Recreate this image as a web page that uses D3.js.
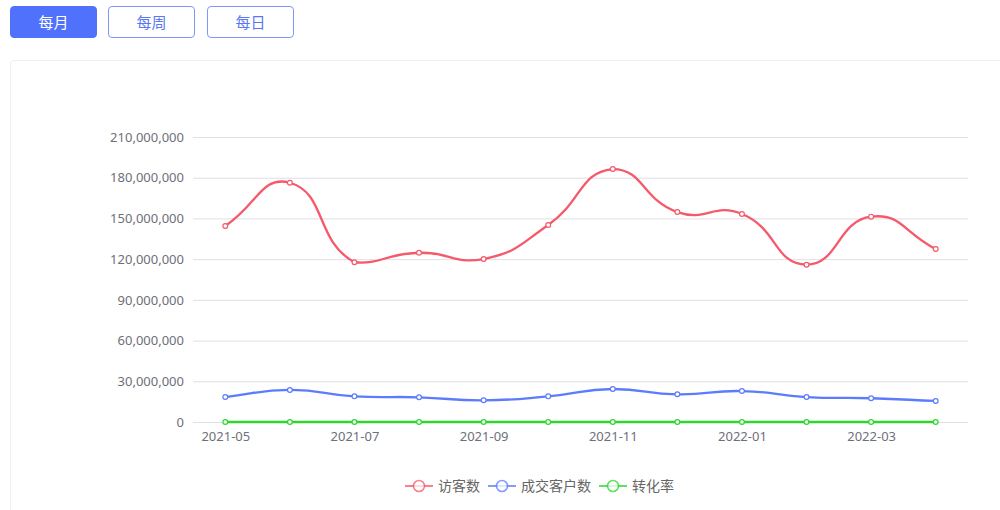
<!DOCTYPE html>
<html>
<head>
<meta charset="utf-8">
<script src="https://cdn.jsdelivr.net/npm/d3@7/dist/d3.min.js"></script>
<style>
  body { margin: 0; width: 1000px; height: 510px; overflow: hidden; background: #fff;
         font-family: "Noto Sans CJK SC", "Noto Sans", sans-serif; }
  .btns { position: absolute; left: 10px; top: 6px; }
  .btn { position: absolute; top: 0; width: 87px; height: 32px; box-sizing: border-box;
         border: 1px solid #7f97f7; border-radius: 4px; background: #fff; color: #5a78f3;
         font-size: 15px; line-height: 30px; text-align: center; }
  .btn.on { background: #4f71fb; border-color: #4f71fb; color: #fff; }
  .card { position: absolute; left: 10px; top: 60px; width: 1000px; height: 470px;
          border: 1px solid #f0f0f3; border-radius: 4px; }
  svg { position: absolute; left: 0; top: 0; }
</style>
</head>
<body>
<div class="btns"></div>
<div class="card"></div>
<svg></svg>
<script>
const BUTTONS = ["每月", "每周", "每日"];
const MONTHS = ["2021-05", "2021-06", "2021-07", "2021-08", "2021-09", "2021-10",
                "2021-11", "2021-12", "2022-01", "2022-02", "2022-03", "2022-04"];
const VISITORS = [144400000, 176300000, 117700000, 124700000, 120100000, 145200000,
                  186400000, 154700000, 153300000, 115900000, 151300000, 127500000];
const BUYERS = [18400000, 23600000, 18900000, 18200000, 16000000, 18900000,
                24300000, 20400000, 22800000, 18400000, 17500000, 15500000];
const RATE = [0.13, 0.13, 0.16, 0.15, 0.13, 0.13, 0.13, 0.13, 0.15, 0.16, 0.12, 0.12];
const Y_TICKS = [0, 30000000, 60000000, 90000000, 120000000, 150000000, 180000000, 210000000];
const SERIES = [
  { name: "访客数", values: VISITORS, color: "#f5596a" },
  { name: "成交客户数", values: BUYERS, color: "#5b7cfd" },
  { name: "转化率", values: RATE, color: "#2ed62e" }
];

// buttons
d3.select(".btns").selectAll("div")
  .data(BUTTONS)
  .enter().append("div")
  .attr("class", (d, i) => i === 0 ? "btn on" : "btn")
  .style("left", (d, i) => [0, 98, 197][i] + "px")
  .text(d => d);

const WIDTH = 1000, HEIGHT = 510;
const GRID = { left: 193, right: 968, top: 137, bottom: 422 };

const svg = d3.select("svg").attr("width", WIDTH).attr("height", HEIGHT);

const xScale = d3.scalePoint().domain(MONTHS).range([GRID.left, GRID.right]).padding(0.5);
const yScale = d3.scaleLinear().domain([0, 210000000]).range([GRID.bottom, GRID.top]);

// smooth bezier like the old echarts polyline (smooth 0.5, clamped to bbox)
function drawSmooth(ctx, pts, smooth) {
  const n = pts.length;
  if (!n) return;
  const minX = d3.min(pts, p => p[0]), maxX = d3.max(pts, p => p[0]);
  const minY = d3.min(pts, p => p[1]), maxY = d3.max(pts, p => p[1]);
  const clamp = c => [Math.max(minX, Math.min(maxX, c[0])), Math.max(minY, Math.min(maxY, c[1]))];
  const cps = [];
  for (let i = 0; i < n; i++) {
    const p = pts[i];
    const prev = pts[Math.max(0, i - 1)];
    const next = pts[Math.min(n - 1, i + 1)];
    const vx = (next[0] - prev[0]) * smooth, vy = (next[1] - prev[1]) * smooth;
    let d0 = Math.hypot(p[0] - prev[0], p[1] - prev[1]);
    let d1 = Math.hypot(p[0] - next[0], p[1] - next[1]);
    const sum = d0 + d1;
    if (sum !== 0) { d0 /= sum; d1 /= sum; }
    cps.push(clamp([p[0] - vx * d0, p[1] - vy * d0]));
    cps.push(clamp([p[0] + vx * d1, p[1] + vy * d1]));
  }
  ctx.moveTo(pts[0][0], pts[0][1]);
  for (let i = 1; i < n; i++) {
    const c1 = cps[(i - 1) * 2 + 1], c2 = cps[i * 2];
    ctx.bezierCurveTo(c1[0], c1[1], c2[0], c2[1], pts[i][0], pts[i][1]);
  }
}

function smoothCurve(context) {
  let pts;
  return {
    areaStart() {}, areaEnd() {},
    lineStart() { pts = []; },
    point(x, y) { pts.push([+x, +y]); },
    lineEnd() { drawSmooth(context, pts, 0.5); }
  };
}

// gridlines + y labels
const yAxis = svg.append("g")
  .attr("transform", `translate(${GRID.left},0)`)
  .call(d3.axisLeft(yScale).tickValues(Y_TICKS).tickSize(-(GRID.right - GRID.left))
        .tickPadding(9).tickFormat(d3.format(",")));
yAxis.select(".domain").remove();
yAxis.selectAll(".tick line").attr("stroke", "#e0e0e6");
yAxis.selectAll(".tick text").attr("fill", "#6e7079").style("font-size", "13px")
  .style("font-family", "'Noto Sans', sans-serif");

// x axis labels (every other)
const xAxis = svg.append("g")
  .attr("transform", `translate(0,${GRID.bottom})`)
  .call(d3.axisBottom(xScale).tickSize(0).tickPadding(10)
        .tickFormat((d, i) => i % 2 === 0 ? d : ""));
xAxis.select(".domain").remove();
xAxis.selectAll(".tick text").attr("fill", "#6e7079").style("font-size", "13px")
  .style("font-family", "'Noto Sans', sans-serif");

// lines
const line = d3.line()
  .x((d, i) => xScale(MONTHS[i]))
  .y(d => yScale(d))
  .curve(smoothCurve);

const seriesG = svg.selectAll(".series")
  .data(SERIES)
  .enter().append("g")
  .attr("class", "series");

seriesG.append("path")
  .attr("d", d => line(d.values))
  .attr("fill", "none")
  .attr("stroke", d => d.color)
  .attr("stroke-width", 2.3);

seriesG.selectAll("circle")
  .data(d => d.values.map((v, i) => ({ v, i, color: d.color })))
  .enter().append("circle")
  .attr("cx", d => xScale(MONTHS[d.i]))
  .attr("cy", d => yScale(d.v))
  .attr("r", 2.4)
  .attr("fill", "#fff")
  .attr("stroke", d => d.color)
  .attr("stroke-width", 1.2);

// legend
const legend = svg.append("g").attr("transform", "translate(405,486)");
let lx = 0;
SERIES.forEach(s => {
  const item = legend.append("g").attr("transform", `translate(${lx},0)`);
  item.append("line").attr("x1", 0).attr("x2", 28).attr("y1", 0).attr("y2", 0)
    .attr("stroke", s.color).attr("stroke-width", 2).attr("opacity", 0.75);
  item.append("circle").attr("cx", 14).attr("cy", 0).attr("r", 5.5)
    .attr("fill", "#fff").attr("stroke", s.color).attr("stroke-width", 1.6).attr("opacity", 0.75);
  const t = item.append("text").attr("x", 33).attr("y", 0).attr("dy", "0.35em")
    .attr("fill", "#666").style("font-size", "14px").text(s.name);
  lx += 33 + t.node().getComputedTextLength() + 8;
});
</script>
</body>
</html>
